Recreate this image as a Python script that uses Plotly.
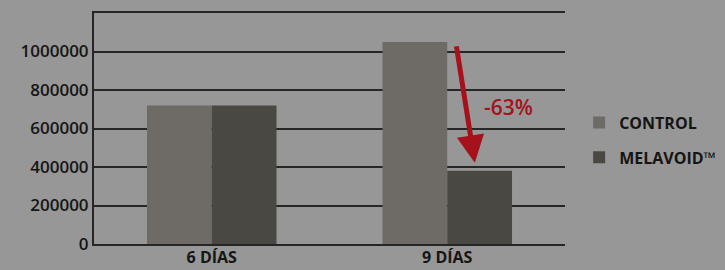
import plotly.graph_objects as go

categories = ["6 DÍAS", "9 DÍAS"]
control = [720000, 1050000]
melavoid = [720000, 380000]
y_ticks = [0, 200000, 400000, 600000, 800000, 1000000, 1200000]
y_ticktext = ["0", "200000", "400000", "600000", "800000", "1000000", ""]

BG = "#979797"
FONT = "Open Sans"
RED = "#a5121c"

fig = go.Figure()
fig.add_trace(go.Bar(x=categories, y=control, name="CONTROL",
                     marker=dict(color="#6e6b66", line=dict(width=0)),
                     legendgroup="a"))
fig.add_trace(go.Bar(x=categories, y=melavoid, name="MELAVOID™",
                     marker=dict(color="#4a4843", line=dict(width=0)),
                     legendgroup="b"))

fig.update_layout(
    width=725, height=270,
    margin=dict(l=94, r=160, t=13, b=26, autoexpand=False),
    paper_bgcolor=BG, plot_bgcolor=BG,
    barmode="group", bargap=0.45, bargroupgap=0,
    font=dict(family=FONT, color="#151515", size=14),
    legend=dict(x=1.03, xanchor="left", y=0.45, yanchor="middle",
                font=dict(family=FONT, size=16, color="#151515", weight=700),
                tracegroupgap=11, bgcolor="rgba(0,0,0,0)"),
    showlegend=True,
)
fig.update_xaxes(range=[-0.5, 1.5], showgrid=False, showline=True,
                 mirror=True, automargin=False,
                 linecolor="#262626", linewidth=2, ticks="",
                 ticklabelstandoff=-2,
                 tickfont=dict(family=FONT, size=16, color="#151515", weight=700))
fig.update_yaxes(range=[0, 1200000], tickvals=y_ticks, ticktext=y_ticktext,
                 showgrid=True, gridcolor="#262626", gridwidth=2,
                 showline=True, linecolor="#262626", linewidth=2,
                 zeroline=False, ticks="", ticklen=0, automargin=False,
                 tickfont=dict(family=FONT, size=17, color="#151515", weight=600))

fig.add_annotation(x=1.117, y=422000, ax=1.038, ay=1034000,
                   xref="x", yref="y", axref="x", ayref="y",
                   text="", showarrow=True, arrowhead=2, arrowsize=1.1,
                   arrowwidth=5, arrowcolor=RED)
fig.add_annotation(x=1.26, y=710000, xref="x", yref="y", text="-63%",
                   showarrow=False,
                   font=dict(family=FONT, size=21, color=RED, weight=600))

fig.write_html("out.html", config={"displayModeBar": False},
               post_script="document.body.style.margin='0';"
                           "document.body.style.background='#979797';")
